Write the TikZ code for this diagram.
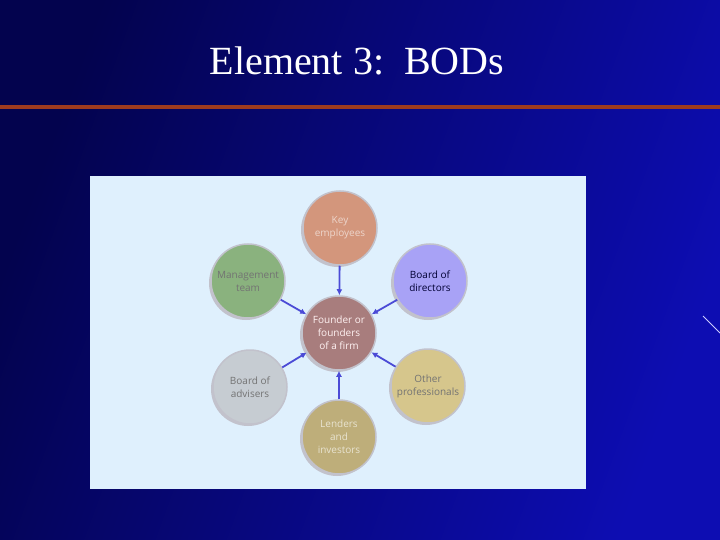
\documentclass[tikz,border=0pt]{standalone}
\usepackage{fontspec}
\setmainfont{Liberation Serif}
\newfontfamily\diagfont{Open Sans}
\usetikzlibrary{arrows.meta, shadows}

\definecolor{bgdark}{HTML}{03034E}
\definecolor{bgmid}{HTML}{08088E}
\definecolor{bglight}{HTML}{0D0DB2}
\definecolor{rulered}{HTML}{9E3B1E}
\definecolor{panelblue}{HTML}{DFF0FD}
\definecolor{rimgray}{HTML}{C2C2CC}
\definecolor{arrowblue}{HTML}{4B4BD6}
\definecolor{keyfill}{HTML}{D3967C}
\definecolor{mgmtfill}{HTML}{8AB27E}
\definecolor{bodfill}{HTML}{A8A2F6}
\definecolor{founderfill}{HTML}{A87D7D}
\definecolor{advfill}{HTML}{C6CCD2}
\definecolor{otherfill}{HTML}{D6C68C}
\definecolor{lendfill}{HTML}{BEAE7A}

\tikzset{
  party/.style={circle, minimum size=74pt, inner sep=0pt, align=center,
    font=\diagfont\fontsize{10}{13}\selectfont, draw=rimgray, line width=1.5pt,
    drop shadow={shadow xshift=-2pt, shadow yshift=-2pt, fill=rimgray, opacity=1}},
  link/.style={draw=arrowblue, line width=1.8pt, -{Latex[length=6pt,width=6pt]}},
}

\begin{document}
\begin{tikzpicture}[x=1pt, y=-1pt]
\useasboundingbox (0,0) rectangle (720,540);

% Hintergrund
\shade[left color=bgdark, middle color=bgmid, right color=bglight, shading angle=70] (0,0) rectangle (720,540);
\draw[white!80!blue, line width=1pt] (703,316) -- (720,333);
\draw[rulered, line width=4pt] (0,107.5) -- (720,107.5);

% Titel
\node[anchor=base, text=white, font=\fontsize{40}{42}\selectfont] (title) at (357,75) {Element 3:\ \ BODs};

% Tafel
\fill[panelblue] (90,176) rectangle (586,489);

% Kreise
\node[party, fill=founderfill, text=white!95!red] (founder) at (339,333) {Founder or\\founders\\of a firm};
\node[party, fill=keyfill, text=keyfill!40!white] (key) at (340,228) {Key\\employees};
\node[party, fill=mgmtfill, text=black!55] (mgmt) at (248,281) {Management\\team};
\node[party, fill=bodfill, text=black!80!blue] (bod) at (430,281) {Board of\\directors};
\node[party, fill=advfill, text=black!55] (adv) at (250,387) {Board of\\advisers};
\node[party, fill=otherfill, text=black!55] (other) at (428,386) {Other\\professionals};
\node[party, fill=lendfill, text=lendfill!35!white] (lend) at (339,437) {Lenders\\and\\investors};

% Pfeile
\draw[link] (key) -- (founder);
\draw[link] (mgmt) -- (founder);
\draw[link] (bod) -- (founder);
\draw[link] (adv) -- (founder);
\draw[link] (other) -- (founder);
\draw[link] (lend) -- (founder);

\end{tikzpicture}
\end{document}
